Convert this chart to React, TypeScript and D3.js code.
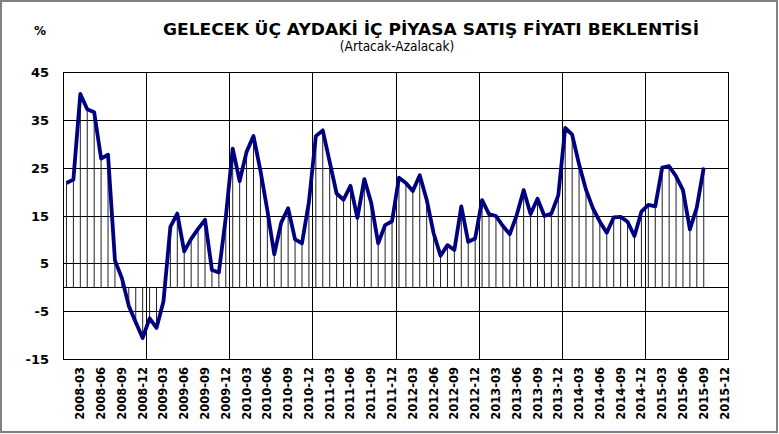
import { useEffect, useRef } from 'react';
import * as d3 from 'd3';

const years = [2008, 2009, 2010, 2011, 2012, 2013, 2014, 2015];
const months = years.flatMap((y) =>
  d3.range(1, 13).map((m) => `${y}-${String(m).padStart(2, '0')}`)
);
// shown every third month on the x axis
const tickLabels = months.filter((m) => ['03', '06', '09', '12'].includes(m.slice(5)));

// Artacak - Azalacak, 2008-01 .. 2015-09
const values = [
  21.8, 22.5, 40.4, 37.2, 36.6, 26.9, 27.7, 5.6, 1.9, -3.9, -7.3, -10.6,
  -6.5, -8.5, -3.0, 12.6, 15.4, 7.5, 10.1, 12.2, 14.1, 3.6, 3.1, 14.6,
  29.0, 22.2, 28.3, 31.6, 24.4, 16.1, 6.9, 13.5, 16.5, 10.0, 9.2, 17.8,
  31.6, 32.8, 26.2, 19.6, 18.3, 21.2, 14.5, 22.6, 17.6, 9.2, 13.0, 13.8,
  22.9, 21.8, 20.1, 23.4, 18.3, 11.3, 6.6, 8.8, 7.8, 16.9, 9.5, 10.2,
  18.2, 15.3, 14.9, 12.8, 11.1, 15.1, 20.3, 15.3, 18.5, 14.9, 15.4, 19.2,
  33.3, 31.9, 25.7, 20.4, 16.5, 13.7, 11.4, 14.6, 14.7, 13.7, 10.7, 15.8,
  17.2, 16.9, 25.0, 25.3, 23.2, 20.3, 12.1, 16.7, 25.0,
];
const yTicks = [45, 35, 25, 15, 5, -5, -15];

const W = 779;
const H = 434;
const margin = { top: 72, right: 51, bottom: 75, left: 63 };

export default function App() {
  const svgRef = useRef<SVGSVGElement>(null);

  useEffect(() => {
    if (!svgRef.current) return;
    const svg = d3.select(svgRef.current);
    svg.selectAll('*').remove();

    const innerW = W - margin.left - margin.right;
    const innerH = H - margin.top - margin.bottom;

    // outer frame
    svg.append('rect')
      .attr('x', 1).attr('y', 1).attr('width', W - 3).attr('height', H - 3)
      .attr('fill', '#fff').attr('stroke', '#808080').attr('stroke-width', 2);

    svg.append('text')
      .attr('x', 431).attr('y', 35)
      .attr('text-anchor', 'middle')
      .attr('font-family', '"DejaVu Sans", sans-serif')
      .attr('font-weight', 'bold').attr('font-size', 15)
      .attr('textLength', 536).attr('lengthAdjust', 'spacingAndGlyphs')
      .text('GELECEK ÜÇ AYDAKİ İÇ PİYASA SATIŞ FİYATI BEKLENTİSİ');
    svg.append('text')
      .attr('x', 397).attr('y', 51)
      .attr('text-anchor', 'middle')
      .attr('font-family', '"DejaVu Sans Condensed", "DejaVu Sans", sans-serif')
      .attr('font-size', 13.5)
      .text('(Artacak-Azalacak)');
    svg.append('text')
      .attr('x', 34).attr('y', 35)
      .attr('font-family', '"DejaVu Sans", sans-serif')
      .attr('font-weight', 'bold').attr('font-size', 12)
      .text('%');

    const g = svg.append('g').attr('transform', `translate(${margin.left},${margin.top})`);

    const x = d3.scaleBand<string>().domain(months).range([0, innerW]).padding(0);
    const y = d3.scaleLinear().domain([-15, 45]).range([innerH, 0]);
    const cx = (m: string) => (x(m) ?? 0) + x.bandwidth() / 2;

    // horizontal grid
    g.append('g')
      .selectAll('line')
      .data([35, 25, 15, 5, 0, -5])
      .join('line')
      .attr('x1', 0).attr('x2', innerW)
      .attr('y1', (d) => Math.round(y(d)) + 0.5).attr('y2', (d) => Math.round(y(d)) + 0.5)
      .attr('stroke', '#000').attr('stroke-width', 1);

    // vertical grid at year boundaries
    g.append('g')
      .selectAll('line')
      .data(years.slice(1).map((yr) => `${yr}-01`))
      .join('line')
      .attr('x1', (d) => Math.round(x(d) ?? 0) + 0.5).attr('x2', (d) => Math.round(x(d) ?? 0) + 0.5)
      .attr('y1', 0).attr('y2', innerH)
      .attr('stroke', '#000').attr('stroke-width', 1);

    // drop lines
    g.append('g')
      .selectAll('line')
      .data(values)
      .join('line')
      .attr('x1', (_, i) => cx(months[i])).attr('x2', (_, i) => cx(months[i]))
      .attr('y1', y(0)).attr('y2', (d) => y(d))
      .attr('stroke', '#222').attr('stroke-width', 1);

    // plot frame
    g.append('rect')
      .attr('x', 0.5).attr('y', 0.5).attr('width', innerW).attr('height', innerH)
      .attr('fill', 'none').attr('stroke', '#000').attr('stroke-width', 1);

    const line = d3.line<number>().x((_, i) => cx(months[i])).y((d) => y(d));
    g.append('path')
      .datum(values)
      .attr('fill', 'none')
      .attr('stroke', '#000080')
      .attr('stroke-width', 3.8)
      .attr('stroke-linejoin', 'round')
      .attr('d', line);

    // y labels
    g.append('g')
      .selectAll('text')
      .data(yTicks)
      .join('text')
      .attr('x', -14).attr('y', (d) => y(d) + 5)
      .attr('text-anchor', 'end')
      .attr('font-family', '"DejaVu Sans", sans-serif')
      .attr('font-weight', 'bold').attr('font-size', 13)
      .text((d) => String(d));

    // x labels, rotated
    g.append('g')
      .selectAll('text')
      .data(tickLabels)
      .join('text')
      .attr('transform', (d) => `translate(${cx(d) + 4},${innerH + 8}) rotate(-90)`)
      .attr('text-anchor', 'end')
      .attr('font-family', '"DejaVu Sans", sans-serif')
      .attr('font-weight', 'bold').attr('font-size', 11.5)
      .text((d) => d);
  }, []);

  return (
    <svg
      ref={svgRef}
      width={W}
      height={H}
      style={{ position: 'absolute', left: 0, top: 0, background: '#fff' }}
    />
  );
}
